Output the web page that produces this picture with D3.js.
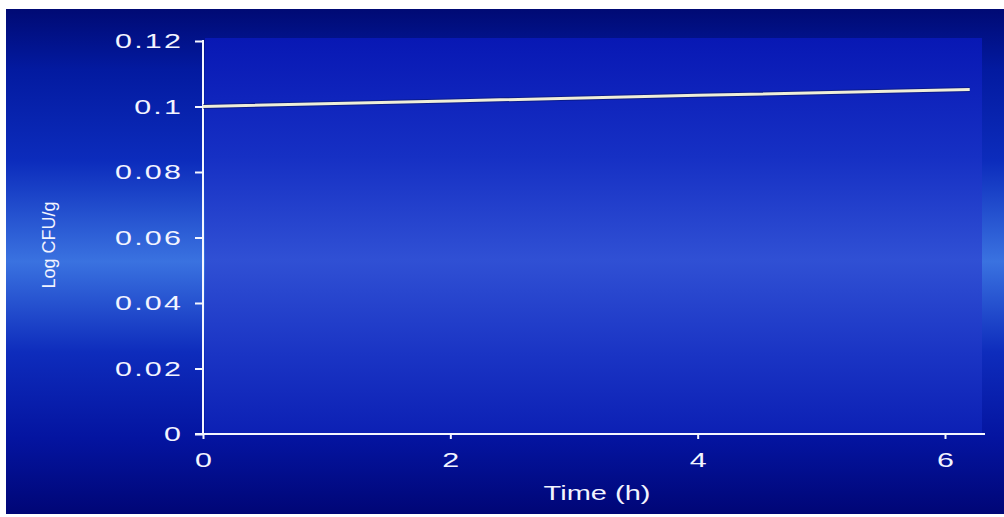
<!DOCTYPE html>
<html>
<head>
<meta charset="utf-8">
<script src="https://cdn.jsdelivr.net/npm/d3@7"></script>
<style>
  html, body { margin: 0; padding: 0; background: #ffffff; }
  svg { display: block; }
  text { font-family: "Liberation Sans", Arial, sans-serif; fill: #f2f4ff; }
</style>
</head>
<body>
<svg id="chart" width="1004" height="517"></svg>
<script>
// Growth curve: time (h) vs Log CFU/g
const timeHours = [0, 2, 4, 6.2];
const logCfu = [0.1, 0.1017, 0.1034, 0.1052];
const xTicks = [0, 2, 4, 6];
const yTicks = [0, 0.02, 0.04, 0.06, 0.08, 0.1, 0.12];
const xLabel = "Time (h)";
const yLabel = "Log CFU/g";

const svg = d3.select("#chart");
const frame = { left: 6, top: 9, right: 1004, bottom: 514 };
const plot = { left: 203, top: 38, right: 982, bottom: 434 };

const defs = svg.append("defs");
const outerGrad = defs.append("linearGradient")
  .attr("id", "outerGrad").attr("x1", 0).attr("y1", 0).attr("x2", 0).attr("y2", 1);
[[0, "#000a74"], [0.12, "#031aa0"], [0.3, "#0c2cbc"], [0.5, "#3a72e0"], [0.68, "#0e2cbc"], [0.85, "#0414a0"], [1, "#000676"]]
  .forEach(([o, c]) => outerGrad.append("stop").attr("offset", o).attr("stop-color", c));

const panelGrad = defs.append("linearGradient")
  .attr("id", "panelGrad").attr("x1", 0).attr("y1", 0).attr("x2", 0).attr("y2", 1);
[[0, "#0818b4"], [0.3, "#1630c4"], [0.56, "#3050d4"], [0.8, "#1a34c4"], [1, "#0c20b4"]]
  .forEach(([o, c]) => panelGrad.append("stop").attr("offset", o).attr("stop-color", c));

svg.append("rect")
  .attr("x", frame.left).attr("y", frame.top)
  .attr("width", frame.right - frame.left).attr("height", frame.bottom - frame.top)
  .attr("fill", "url(#outerGrad)");

svg.append("rect")
  .attr("x", plot.left + 2).attr("y", plot.top)
  .attr("width", plot.right - plot.left - 2).attr("height", plot.bottom - plot.top)
  .attr("fill", "url(#panelGrad)");

const x = d3.scaleLinear().domain([0, 6]).range([plot.left, 945]);
const y = d3.scaleLinear().domain([0, 0.12]).range([plot.bottom, 41]);

// tick labels are drawn wide, like the bitmap font of the original software
const stretch = 1.45;

// y axis
const yAxis = svg.append("g")
  .attr("transform", `translate(${plot.left},0)`)
  .call(d3.axisLeft(y).tickValues(yTicks).tickSize(8)
    .tickFormat(d => d === 0 ? "0" : d3.format("~g")(+d.toFixed(2))));
yAxis.select(".domain").attr("d", `M0,${plot.top + 2}V${plot.bottom}`)
  .attr("stroke", "#f4f6ff").attr("stroke-width", 2);
yAxis.selectAll(".tick line").attr("stroke", "#f4f6ff").attr("stroke-width", 2);
yAxis.selectAll(".tick text")
  .attr("font-size", 21)
  .attr("letter-spacing", 1.5)
  .attr("fill", "#eef2ff")
  .attr("x", -20 / stretch)
  .attr("transform", `scale(${stretch},1)`);

// x axis
const xAxis = svg.append("g")
  .attr("transform", `translate(0,${plot.bottom})`)
  .call(d3.axisBottom(x).tickValues(xTicks).tickSize(5).tickFormat(d3.format("d")));
xAxis.select(".domain").attr("d", `M${plot.left - 8},0H${plot.right + 3}`)
  .attr("stroke", "#f4f6ff").attr("stroke-width", 2);
xAxis.selectAll(".tick line").attr("stroke", "#f4f6ff").attr("stroke-width", 2);
xAxis.selectAll(".tick text")
  .attr("font-size", 21)
  .attr("fill", "#eef2ff")
  .attr("dy", null)
  .attr("y", 33)
  .attr("transform", `scale(${stretch},1)`);

// data line with a dark edge underneath
const line = d3.line().x(d => x(d[0])).y(d => y(d[1]));
const pts = timeHours.map((t, i) => [t, logCfu[i]]);
svg.append("path").datum(pts)
  .attr("d", line).attr("fill", "none")
  .attr("stroke", "#0a1460").attr("stroke-width", 5).attr("stroke-opacity", 0.55);
svg.append("path").datum(pts)
  .attr("d", line).attr("fill", "none")
  .attr("stroke", "#efeed8").attr("stroke-width", 3);

// axis titles
svg.append("text")
  .attr("transform", `translate(${597},${500}) scale(${stretch},1)`)
  .attr("text-anchor", "middle")
  .attr("font-size", 20)
  .attr("fill", "#eef2ff")
  .text(xLabel);

svg.append("text")
  .attr("transform", `translate(${55},${245}) rotate(-90)`)
  .attr("text-anchor", "middle")
  .attr("font-size", 18)
  .attr("fill", "#eef2ff")
  .text(yLabel);
</script>
</body>
</html>
